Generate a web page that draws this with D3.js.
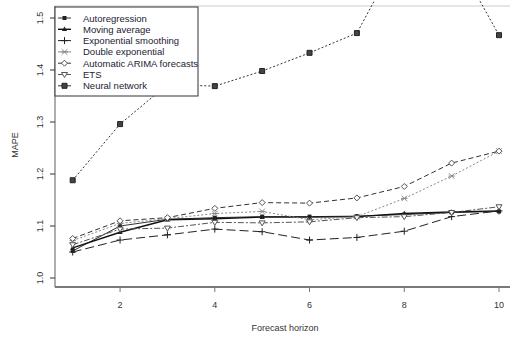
<!DOCTYPE html>
<html>
<head>
<meta charset="utf-8">
<script src="https://cdn.jsdelivr.net/npm/d3@7"></script>
<style>
  body { margin: 0; background: #fff; }
  svg { display: block; font-family: "Liberation Sans", Arial, sans-serif; }
</style>
</head>
<body>
<script>
const horizons = [1, 2, 3, 4, 5, 6, 7, 8, 9, 10];
const xTicks = [2, 4, 6, 8, 10];
const yTicks = [1.0, 1.1, 1.2, 1.3, 1.4, 1.5];

const seriesNames = [
  "Autoregression",
  "Moving average",
  "Exponential smoothing",
  "Double exponential",
  "Automatic ARIMA forecasts",
  "ETS",
  "Neural network",
];

const autoregression = [1.052, 1.100, 1.113, 1.116, 1.118, 1.118, 1.119, 1.122, 1.126, 1.128];
const movingAverage = [1.058, 1.088, 1.112, 1.114, 1.117, 1.117, 1.118, 1.124, 1.127, 1.129];
const expSmoothing = [1.050, 1.073, 1.083, 1.094, 1.089, 1.073, 1.078, 1.090, 1.118, 1.129];
const doubleExp = [1.072, 1.105, 1.114, 1.124, 1.128, 1.112, 1.118, 1.153, 1.196, 1.244];
const arima = [1.076, 1.110, 1.116, 1.134, 1.145, 1.144, 1.154, 1.176, 1.221, 1.244];
const ets = [1.064, 1.094, 1.096, 1.107, 1.106, 1.108, 1.116, 1.118, 1.126, 1.137];
const neuralNet = [1.188, 1.296, 1.372, 1.369, 1.398, 1.433, 1.471, 1.640, 1.630, 1.467];

const width = 510;
const height = 337;
const plotLeft = 55;
const plotTop = 6;
const plotBottom = 287;
const plotRight = 512;

const x = d3.scaleLinear().domain([1, 10]).range([72.7, 499]);
const y = d3.scaleLinear().domain([1.0, 1.5]).range([278, 18]);

// marker drawers, R-like pch symbols (small)
const mark = {
  square: (g) => g.append("path").attr("d", "M-2,-2H2V2H-2Z").attr("fill", "#222"),
  triangle: (g) => g.append("path").attr("d", "M0,-2.8L2.6,1.8L-2.6,1.8Z").attr("fill", "#222"),
  plus: (g) => g.append("path").attr("d", "M-3.5,0H3.5M0,-3.5V3.5").attr("stroke", "#222").attr("fill", "none"),
  star: (g) => g.append("path").attr("d", "M-2.8,-2.8L2.8,2.8M-2.8,2.8L2.8,-2.8M-3.2,0H3.2").attr("stroke", "#888").attr("fill", "none"),
  diamond: (g) => g.append("path").attr("d", "M0,-3L3,0L0,3L-3,0Z").attr("stroke", "#555").attr("fill", "#fff"),
  tridown: (g) => g.append("path").attr("d", "M-3,-2L3,-2L0,3Z").attr("stroke", "#555").attr("fill", "#fff"),
  bigsquare: (g) => g.append("path").attr("d", "M-2.5,-2.5H2.5V2.5H-2.5Z").attr("stroke", "#222").attr("fill", "#444"),
};

const series = [
  { name: seriesNames[0], values: autoregression, color: "#333", width: 1, dash: null, marker: "square" },
  { name: seriesNames[1], values: movingAverage, color: "#111", width: 1.4, dash: null, marker: "triangle" },
  { name: seriesNames[2], values: expSmoothing, color: "#222", width: 1, dash: "9,4", marker: "plus" },
  { name: seriesNames[3], values: doubleExp, color: "#888", width: 1, dash: "2,2", marker: "star" },
  { name: seriesNames[4], values: arima, color: "#333", width: 1, dash: "5,3", marker: "diamond" },
  { name: seriesNames[5], values: ets, color: "#555", width: 1, dash: "6,2,2,2", marker: "tridown" },
  { name: seriesNames[6], values: neuralNet, color: "#333", width: 1, dash: "2,2", marker: "bigsquare" },
];

const svg = d3.select("body")
    .append("svg")
    .attr("width", width)
    .attr("height", height);

// plot box
svg.append("rect")
    .attr("x", plotLeft)
    .attr("y", plotTop)
    .attr("width", plotRight - plotLeft)
    .attr("height", plotBottom - plotTop)
    .attr("fill", "none")
    .attr("stroke", "#ccc")
    .attr("stroke-width", 1);

svg.append("line")
    .attr("x1", plotLeft).attr("x2", plotRight)
    .attr("y1", plotBottom).attr("y2", plotBottom)
    .attr("stroke", "#555").attr("stroke-width", 1.5);
svg.append("line")
    .attr("x1", plotLeft).attr("x2", plotLeft)
    .attr("y1", plotTop).attr("y2", plotBottom)
    .attr("stroke", "#777").attr("stroke-width", 1);

// y axis
const yAxis = svg.append("g");
yAxis.selectAll("line")
    .data(yTicks)
    .enter()
    .append("line")
    .attr("x1", plotLeft - 5).attr("x2", plotLeft)
    .attr("y1", (d) => y(d)).attr("y2", (d) => y(d))
    .attr("stroke", "#333");
yAxis.selectAll("text")
    .data(yTicks)
    .enter()
    .append("text")
    .attr("transform", (d) => `translate(43, ${y(d)}) rotate(-90)`)
    .attr("text-anchor", "middle")
    .attr("font-size", 9)
    .attr("fill", "#333")
    .text((d) => d.toFixed(1));

// x axis
const xAxis = svg.append("g");
xAxis.selectAll("line")
    .data(xTicks)
    .enter()
    .append("line")
    .attr("x1", (d) => x(d)).attr("x2", (d) => x(d))
    .attr("y1", plotBottom).attr("y2", plotBottom + 5)
    .attr("stroke", "#777");
xAxis.selectAll("text")
    .data(xTicks)
    .enter()
    .append("text")
    .attr("x", (d) => x(d))
    .attr("y", 308)
    .attr("text-anchor", "middle")
    .attr("font-size", 9)
    .attr("fill", "#333")
    .text((d) => d);

svg.append("text")
    .attr("x", 285)
    .attr("y", 331)
    .attr("text-anchor", "middle")
    .attr("font-size", 9)
    .attr("fill", "#333")
    .text("Forecast horizon");

svg.append("text")
    .attr("transform", "translate(18, 145) rotate(-90)")
    .attr("text-anchor", "middle")
    .attr("font-size", 9)
    .attr("fill", "#333")
    .text("MAPE");

// series
const line = d3.line()
    .x((d, i) => x(horizons[i]))
    .y((d) => y(d));

const plot = svg.append("g");

for (const s of series) {
  plot.append("path")
      .attr("d", line(s.values))
      .attr("fill", "none")
      .attr("stroke", s.color)
      .attr("stroke-width", s.width)
      .attr("stroke-dasharray", s.dash);

  for (let i = 0; i < s.values.length; i++) {
    const g = plot.append("g")
        .attr("transform", `translate(${x(horizons[i])}, ${y(s.values[i])})`);
    mark[s.marker](g);
  }
}

// legend
const legend = svg.append("g");
legend.append("rect")
    .attr("x", plotLeft)
    .attr("y", 7)
    .attr("width", 143)
    .attr("height", 89)
    .attr("fill", "#fff")
    .attr("stroke", "#333")
    .attr("stroke-width", 1);

series.forEach((s, i) => {
  const ly = 18 + i * 11.3;
  const g = legend.append("g").attr("transform", `translate(0, ${ly})`);
  g.append("line")
      .attr("x1", 58).attr("x2", 71)
      .attr("y1", 0).attr("y2", 0)
      .attr("stroke", s.color)
      .attr("stroke-width", s.width);
  const m = g.append("g").attr("transform", "translate(64.5, 0)");
  mark[s.marker](m);
  g.append("text")
      .attr("x", 83)
      .attr("y", 3.5)
      .attr("font-size", 9.5)
      .attr("fill", "#223")
      .text(s.name);
});
</script>
</body>
</html>
